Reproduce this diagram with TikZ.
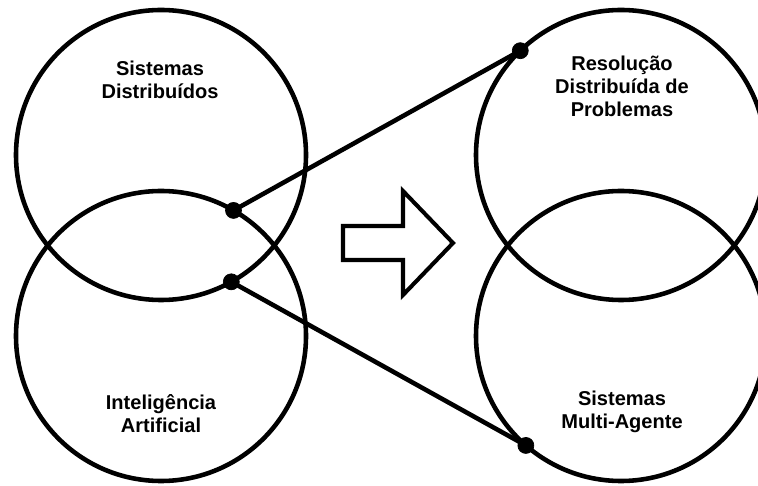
\documentclass[tikz,border=0pt]{standalone}
\usepackage{fontspec}
\setmainfont{Liberation Sans}
\usepackage{tikz}
\usetikzlibrary{calc}

\tikzset{
	ring/.style={circle, draw, line width=2.6pt, minimum size=5.8cm, inner sep=0, outer sep=0},
	label/.style={align=center, font=\fontsize{11.4}{13}\selectfont\bfseries},
	link/.style={line width=2.6pt},
	joint/.style={fill=black}
}

\begin{document}
\begin{tikzpicture}
			%%%%% START %%%%%
			\useasboundingbox (0, 0) rectangle (15.16, 9.70);
			\clip (0, 0) rectangle (15.16, 9.70);
			
			\node[ring] (sd) at (3.22, 6.60) {};
			\node[ring] (ia) at (3.22, 2.98) {};
			
			\node[ring] (rdp) at (12.42, 6.60) {};
			\node[ring] (sma) at (12.42, 2.98) {};
			
			\node[label] (sdtext) at (3.20, 8.10) {Sistemas\\Distribuídos};
			\node[label] (iatext) at (3.22, 1.42) {Inteligência\\Artificial};
			\node[label] (rdptext) at (12.44, 7.98) {Resolução\\Distribuída de\\Problemas};
			\node[label] (smatext) at (12.44, 1.46) {Sistemas\\Multi-Agente};
			
			\coordinate (d1) at (ia.60);
			\coordinate (d2) at (sd.-61);
			\coordinate (d3) at (rdp.134);
			\coordinate (d4) at (sma.229);
			
			\draw[link] (d1) -- (d3);
			\draw[link] (d2) -- (d4);
			
			\foreach \p in {d1, d2, d3, d4}
				\draw[joint] (\p) circle (0.16);
			
			\draw[line width=2.3pt] (6.86, 5.18) -- (8.06, 5.18) -- (8.06, 5.88) -- (9.06, 4.84)
				-- (8.06, 3.80) -- (8.06, 4.50) -- (6.86, 4.50) -- cycle;
			
			%%%%% END %%%%%
\end{tikzpicture}
\end{document}
